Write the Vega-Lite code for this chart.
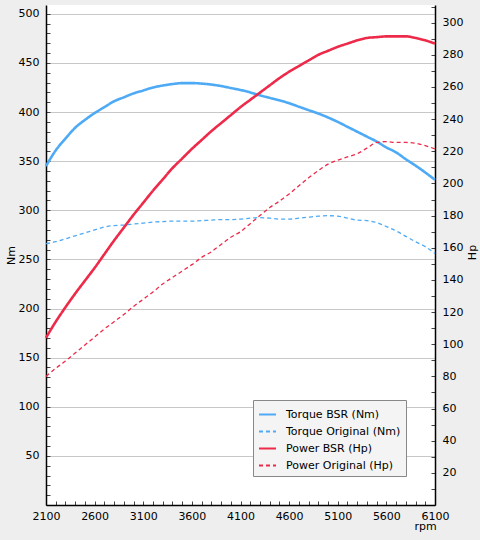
{
  "$schema": "https://vega.github.io/schema/vega-lite/v6.json",
  "width": 389,
  "height": 500,
  "autosize": {"type": "none"},
  "padding": {"left": 46, "top": 5, "right": 45, "bottom": 35},
  "background": "#eeeeee",
  "config": {
    "font": "DejaVu Sans",
    "view": {"fill": "white", "stroke": null},
    "axis": {
      "domainColor": "#000000",
      "domainWidth": 1.5,
      "tickColor": "#444444",
      "tickSize": -4,
      "tickWidth": 1,
      "labelFont": "DejaVu Sans",
      "labelFontSize": 11,
      "labelColor": "#000000",
      "titleFont": "DejaVu Sans",
      "titleFontSize": 11,
      "titleFontWeight": "normal",
      "titleColor": "#000000",
      "gridColor": "#c8c8c8",
      "gridWidth": 1
    },
    "legend": {
      "orient": "none",
      "legendX": 207,
      "legendY": 395,
      "fillColor": "#f4f4f4",
      "strokeColor": "#888888",
      "padding": 5,
      "rowPadding": 2,
      "labelFont": "DejaVu Sans",
      "labelFontSize": 11,
      "labelColor": "#000000",
      "labelOffset": 9,
      "symbolType": "stroke",
      "symbolSize": 289,
      "symbolStrokeWidth": 2
    }
  },
  "data": {
    "values": [
      {"rpm": 2100, "series": "Torque BSR (Nm)", "value": 345},
      {"rpm": 2200, "series": "Torque BSR (Nm)", "value": 361},
      {"rpm": 2300, "series": "Torque BSR (Nm)", "value": 373},
      {"rpm": 2400, "series": "Torque BSR (Nm)", "value": 384},
      {"rpm": 2500, "series": "Torque BSR (Nm)", "value": 392},
      {"rpm": 2600, "series": "Torque BSR (Nm)", "value": 399},
      {"rpm": 2700, "series": "Torque BSR (Nm)", "value": 405},
      {"rpm": 2800, "series": "Torque BSR (Nm)", "value": 411},
      {"rpm": 2900, "series": "Torque BSR (Nm)", "value": 415},
      {"rpm": 3000, "series": "Torque BSR (Nm)", "value": 419},
      {"rpm": 3100, "series": "Torque BSR (Nm)", "value": 422},
      {"rpm": 3200, "series": "Torque BSR (Nm)", "value": 425},
      {"rpm": 3300, "series": "Torque BSR (Nm)", "value": 427},
      {"rpm": 3400, "series": "Torque BSR (Nm)", "value": 428.5},
      {"rpm": 3500, "series": "Torque BSR (Nm)", "value": 429.5},
      {"rpm": 3600, "series": "Torque BSR (Nm)", "value": 429.5},
      {"rpm": 3700, "series": "Torque BSR (Nm)", "value": 429},
      {"rpm": 3800, "series": "Torque BSR (Nm)", "value": 428},
      {"rpm": 3900, "series": "Torque BSR (Nm)", "value": 426.5},
      {"rpm": 4000, "series": "Torque BSR (Nm)", "value": 424.5},
      {"rpm": 4100, "series": "Torque BSR (Nm)", "value": 422.5},
      {"rpm": 4200, "series": "Torque BSR (Nm)", "value": 420},
      {"rpm": 4300, "series": "Torque BSR (Nm)", "value": 417},
      {"rpm": 4400, "series": "Torque BSR (Nm)", "value": 414.5},
      {"rpm": 4500, "series": "Torque BSR (Nm)", "value": 412},
      {"rpm": 4600, "series": "Torque BSR (Nm)", "value": 409},
      {"rpm": 4700, "series": "Torque BSR (Nm)", "value": 405.5},
      {"rpm": 4800, "series": "Torque BSR (Nm)", "value": 402},
      {"rpm": 4900, "series": "Torque BSR (Nm)", "value": 398.5},
      {"rpm": 5000, "series": "Torque BSR (Nm)", "value": 394.5},
      {"rpm": 5100, "series": "Torque BSR (Nm)", "value": 390},
      {"rpm": 5200, "series": "Torque BSR (Nm)", "value": 385},
      {"rpm": 5300, "series": "Torque BSR (Nm)", "value": 380},
      {"rpm": 5400, "series": "Torque BSR (Nm)", "value": 375},
      {"rpm": 5500, "series": "Torque BSR (Nm)", "value": 370},
      {"rpm": 5600, "series": "Torque BSR (Nm)", "value": 364},
      {"rpm": 5700, "series": "Torque BSR (Nm)", "value": 359},
      {"rpm": 5800, "series": "Torque BSR (Nm)", "value": 352},
      {"rpm": 5900, "series": "Torque BSR (Nm)", "value": 345.5},
      {"rpm": 6000, "series": "Torque BSR (Nm)", "value": 338.5},
      {"rpm": 6100, "series": "Torque BSR (Nm)", "value": 331},

      {"rpm": 2100, "series": "Torque Original (Nm)", "value": 266},
      {"rpm": 2200, "series": "Torque Original (Nm)", "value": 268},
      {"rpm": 2300, "series": "Torque Original (Nm)", "value": 271},
      {"rpm": 2400, "series": "Torque Original (Nm)", "value": 274},
      {"rpm": 2500, "series": "Torque Original (Nm)", "value": 277},
      {"rpm": 2600, "series": "Torque Original (Nm)", "value": 280},
      {"rpm": 2700, "series": "Torque Original (Nm)", "value": 283},
      {"rpm": 2800, "series": "Torque Original (Nm)", "value": 284.5},
      {"rpm": 2900, "series": "Torque Original (Nm)", "value": 285},
      {"rpm": 3000, "series": "Torque Original (Nm)", "value": 286},
      {"rpm": 3100, "series": "Torque Original (Nm)", "value": 287},
      {"rpm": 3200, "series": "Torque Original (Nm)", "value": 288},
      {"rpm": 3300, "series": "Torque Original (Nm)", "value": 288.5},
      {"rpm": 3400, "series": "Torque Original (Nm)", "value": 289},
      {"rpm": 3500, "series": "Torque Original (Nm)", "value": 289},
      {"rpm": 3600, "series": "Torque Original (Nm)", "value": 289},
      {"rpm": 3700, "series": "Torque Original (Nm)", "value": 289.5},
      {"rpm": 3800, "series": "Torque Original (Nm)", "value": 290},
      {"rpm": 3900, "series": "Torque Original (Nm)", "value": 290.5},
      {"rpm": 4000, "series": "Torque Original (Nm)", "value": 290.5},
      {"rpm": 4100, "series": "Torque Original (Nm)", "value": 291},
      {"rpm": 4200, "series": "Torque Original (Nm)", "value": 292},
      {"rpm": 4300, "series": "Torque Original (Nm)", "value": 292.5},
      {"rpm": 4400, "series": "Torque Original (Nm)", "value": 292},
      {"rpm": 4500, "series": "Torque Original (Nm)", "value": 291},
      {"rpm": 4600, "series": "Torque Original (Nm)", "value": 291},
      {"rpm": 4700, "series": "Torque Original (Nm)", "value": 292},
      {"rpm": 4800, "series": "Torque Original (Nm)", "value": 293},
      {"rpm": 4900, "series": "Torque Original (Nm)", "value": 294},
      {"rpm": 5000, "series": "Torque Original (Nm)", "value": 294.5},
      {"rpm": 5100, "series": "Torque Original (Nm)", "value": 294},
      {"rpm": 5200, "series": "Torque Original (Nm)", "value": 292},
      {"rpm": 5300, "series": "Torque Original (Nm)", "value": 290},
      {"rpm": 5400, "series": "Torque Original (Nm)", "value": 289.5},
      {"rpm": 5500, "series": "Torque Original (Nm)", "value": 287.5},
      {"rpm": 5600, "series": "Torque Original (Nm)", "value": 283.5},
      {"rpm": 5700, "series": "Torque Original (Nm)", "value": 279},
      {"rpm": 5800, "series": "Torque Original (Nm)", "value": 273.5},
      {"rpm": 5900, "series": "Torque Original (Nm)", "value": 268},
      {"rpm": 6000, "series": "Torque Original (Nm)", "value": 263},
      {"rpm": 6100, "series": "Torque Original (Nm)", "value": 256},

      {"rpm": 2100, "series": "Power BSR (Hp)", "value": 104},
      {"rpm": 2200, "series": "Power BSR (Hp)", "value": 114},
      {"rpm": 2300, "series": "Power BSR (Hp)", "value": 123},
      {"rpm": 2400, "series": "Power BSR (Hp)", "value": 131.5},
      {"rpm": 2500, "series": "Power BSR (Hp)", "value": 139.5},
      {"rpm": 2600, "series": "Power BSR (Hp)", "value": 147.5},
      {"rpm": 2700, "series": "Power BSR (Hp)", "value": 156},
      {"rpm": 2800, "series": "Power BSR (Hp)", "value": 164.5},
      {"rpm": 2900, "series": "Power BSR (Hp)", "value": 172.5},
      {"rpm": 3000, "series": "Power BSR (Hp)", "value": 180.5},
      {"rpm": 3100, "series": "Power BSR (Hp)", "value": 188},
      {"rpm": 3200, "series": "Power BSR (Hp)", "value": 195.5},
      {"rpm": 3300, "series": "Power BSR (Hp)", "value": 202.5},
      {"rpm": 3400, "series": "Power BSR (Hp)", "value": 209.5},
      {"rpm": 3500, "series": "Power BSR (Hp)", "value": 215.5},
      {"rpm": 3600, "series": "Power BSR (Hp)", "value": 221.5},
      {"rpm": 3700, "series": "Power BSR (Hp)", "value": 227},
      {"rpm": 3800, "series": "Power BSR (Hp)", "value": 232.5},
      {"rpm": 3900, "series": "Power BSR (Hp)", "value": 237.5},
      {"rpm": 4000, "series": "Power BSR (Hp)", "value": 242.5},
      {"rpm": 4100, "series": "Power BSR (Hp)", "value": 247.5},
      {"rpm": 4200, "series": "Power BSR (Hp)", "value": 252},
      {"rpm": 4300, "series": "Power BSR (Hp)", "value": 256.5},
      {"rpm": 4400, "series": "Power BSR (Hp)", "value": 261},
      {"rpm": 4500, "series": "Power BSR (Hp)", "value": 265.5},
      {"rpm": 4600, "series": "Power BSR (Hp)", "value": 269.5},
      {"rpm": 4700, "series": "Power BSR (Hp)", "value": 273},
      {"rpm": 4800, "series": "Power BSR (Hp)", "value": 276.5},
      {"rpm": 4900, "series": "Power BSR (Hp)", "value": 280},
      {"rpm": 5000, "series": "Power BSR (Hp)", "value": 282.5},
      {"rpm": 5100, "series": "Power BSR (Hp)", "value": 285},
      {"rpm": 5200, "series": "Power BSR (Hp)", "value": 287},
      {"rpm": 5300, "series": "Power BSR (Hp)", "value": 289},
      {"rpm": 5400, "series": "Power BSR (Hp)", "value": 290.5},
      {"rpm": 5500, "series": "Power BSR (Hp)", "value": 291},
      {"rpm": 5600, "series": "Power BSR (Hp)", "value": 291.5},
      {"rpm": 5700, "series": "Power BSR (Hp)", "value": 291.5},
      {"rpm": 5800, "series": "Power BSR (Hp)", "value": 291.5},
      {"rpm": 5900, "series": "Power BSR (Hp)", "value": 290.5},
      {"rpm": 6000, "series": "Power BSR (Hp)", "value": 289},
      {"rpm": 6100, "series": "Power BSR (Hp)", "value": 287},

      {"rpm": 2100, "series": "Power Original (Hp)", "value": 80},
      {"rpm": 2200, "series": "Power Original (Hp)", "value": 85},
      {"rpm": 2300, "series": "Power Original (Hp)", "value": 89.5},
      {"rpm": 2400, "series": "Power Original (Hp)", "value": 94.5},
      {"rpm": 2500, "series": "Power Original (Hp)", "value": 99.5},
      {"rpm": 2600, "series": "Power Original (Hp)", "value": 104.5},
      {"rpm": 2700, "series": "Power Original (Hp)", "value": 109.5},
      {"rpm": 2800, "series": "Power Original (Hp)", "value": 114},
      {"rpm": 2900, "series": "Power Original (Hp)", "value": 118.5},
      {"rpm": 3000, "series": "Power Original (Hp)", "value": 123.5},
      {"rpm": 3100, "series": "Power Original (Hp)", "value": 128},
      {"rpm": 3200, "series": "Power Original (Hp)", "value": 132.5},
      {"rpm": 3300, "series": "Power Original (Hp)", "value": 137.5},
      {"rpm": 3400, "series": "Power Original (Hp)", "value": 141.5},
      {"rpm": 3500, "series": "Power Original (Hp)", "value": 145.5},
      {"rpm": 3600, "series": "Power Original (Hp)", "value": 149.5},
      {"rpm": 3700, "series": "Power Original (Hp)", "value": 154},
      {"rpm": 3800, "series": "Power Original (Hp)", "value": 157.5},
      {"rpm": 3900, "series": "Power Original (Hp)", "value": 162},
      {"rpm": 4000, "series": "Power Original (Hp)", "value": 166.5},
      {"rpm": 4100, "series": "Power Original (Hp)", "value": 170},
      {"rpm": 4200, "series": "Power Original (Hp)", "value": 175},
      {"rpm": 4300, "series": "Power Original (Hp)", "value": 180},
      {"rpm": 4400, "series": "Power Original (Hp)", "value": 185},
      {"rpm": 4500, "series": "Power Original (Hp)", "value": 189},
      {"rpm": 4600, "series": "Power Original (Hp)", "value": 193.5},
      {"rpm": 4700, "series": "Power Original (Hp)", "value": 198.5},
      {"rpm": 4800, "series": "Power Original (Hp)", "value": 203.5},
      {"rpm": 4900, "series": "Power Original (Hp)", "value": 208},
      {"rpm": 5000, "series": "Power Original (Hp)", "value": 212},
      {"rpm": 5100, "series": "Power Original (Hp)", "value": 214.5},
      {"rpm": 5200, "series": "Power Original (Hp)", "value": 216.5},
      {"rpm": 5300, "series": "Power Original (Hp)", "value": 218.5},
      {"rpm": 5400, "series": "Power Original (Hp)", "value": 222},
      {"rpm": 5500, "series": "Power Original (Hp)", "value": 225.5},
      {"rpm": 5600, "series": "Power Original (Hp)", "value": 226},
      {"rpm": 5700, "series": "Power Original (Hp)", "value": 225.5},
      {"rpm": 5800, "series": "Power Original (Hp)", "value": 225.5},
      {"rpm": 5900, "series": "Power Original (Hp)", "value": 225},
      {"rpm": 6000, "series": "Power Original (Hp)", "value": 223.5},
      {"rpm": 6100, "series": "Power Original (Hp)", "value": 221.5}
    ]
  },
  "encoding": {
    "x": {
      "field": "rpm",
      "type": "quantitative",
      "scale": {"domain": [2100, 6100], "nice": false, "zero": false},
      "axis": {
        "title": "rpm",
        "values": [2100,2200,2300,2400,2500,2600,2700,2800,2900,3000,3100,3200,3300,3400,3500,3600,3700,3800,3900,4000,4100,4200,4300,4400,4500,4600,4700,4800,4900,5000,5100,5200,5300,5400,5500,5600,5700,5800,5900,6000,6100],
        "labelExpr": "(datum.value - 2100) % 500 == 0 ? datum.label : ''",
        "format": "d",
        "labelFlush": false,
        "labelOverlap": false,
        "labelPadding": 9,
        "grid": false,
        "titleX": 379,
        "titleY": 24.5,
        "titleAlign": "center",
        "titleBaseline": "alphabetic"
      }
    },
    "color": {
      "field": "series",
      "type": "nominal",
      "scale": {
        "domain": ["Torque BSR (Nm)", "Torque Original (Nm)", "Power BSR (Hp)", "Power Original (Hp)"],
        "range": ["#4eaaf5", "#4eaaf5", "#ee2a4a", "#ee2a4a"]
      },
      "legend": {"title": null}
    },
    "strokeDash": {
      "field": "series",
      "type": "nominal",
      "scale": {
        "domain": ["Torque BSR (Nm)", "Torque Original (Nm)", "Power BSR (Hp)", "Power Original (Hp)"],
        "range": [[1, 0], [4, 3], [1, 0], [4, 3]]
      },
      "legend": {"title": null}
    }
  },
  "layer": [
    {
      "encoding": {
        "y": {
          "field": "value",
          "type": "quantitative",
          "scale": {"domain": [0, 509], "nice": false, "zero": false},
          "axis": {
            "orient": "left",
            "title": "Nm",
            "values": [10,20,30,40,50,60,70,80,90,100,110,120,130,140,150,160,170,180,190,200,210,220,230,240,250,260,270,280,290,300,310,320,330,340,350,360,370,380,390,400,410,420,430,440,450,460,470,480,490,500],
            "labelExpr": "datum.value % 50 == 0 ? datum.label : ''",
            "labelOverlap": false,
            "labelPadding": 11,
            "grid": true,
            "gridOpacity": {"condition": {"test": "datum.value % 50 == 0", "value": 1}, "value": 0},
            "titleAngle": 270,
            "titleX": -35,
            "titleY": 250,
            "titleAlign": "center",
            "titleBaseline": "middle"
          }
        }
      },
      "layer": [
        {
          "transform": [{"filter": "datum.series == 'Torque BSR (Nm)'"}],
          "mark": {"type": "line", "strokeWidth": 2.6, "interpolate": "monotone"}
        },
        {
          "transform": [{"filter": "datum.series == 'Torque Original (Nm)'"}],
          "mark": {"type": "line", "strokeWidth": 1.3, "interpolate": "monotone"}
        }
      ]
    },
    {
      "encoding": {
        "y": {
          "field": "value",
          "type": "quantitative",
          "scale": {"domain": [0, 311], "nice": false, "zero": false},
          "axis": {
            "orient": "right",
            "title": "Hp",
            "values": [10,20,30,40,50,60,70,80,90,100,110,120,130,140,150,160,170,180,190,200,210,220,230,240,250,260,270,280,290,300,310],
            "labelExpr": "datum.value % 20 == 0 ? datum.label : ''",
            "labelOverlap": false,
            "labelPadding": 11,
            "grid": false,
            "titleAngle": 270,
            "titleX": 37,
            "titleY": 247,
            "titleAlign": "center",
            "titleBaseline": "middle"
          }
        }
      },
      "layer": [
        {
          "transform": [{"filter": "datum.series == 'Power BSR (Hp)'"}],
          "mark": {"type": "line", "strokeWidth": 2.6, "interpolate": "monotone"}
        },
        {
          "transform": [{"filter": "datum.series == 'Power Original (Hp)'"}],
          "mark": {"type": "line", "strokeWidth": 1.3, "interpolate": "monotone"}
        }
      ]
    }
  ],
  "resolve": {"scale": {"y": "independent"}}
}
